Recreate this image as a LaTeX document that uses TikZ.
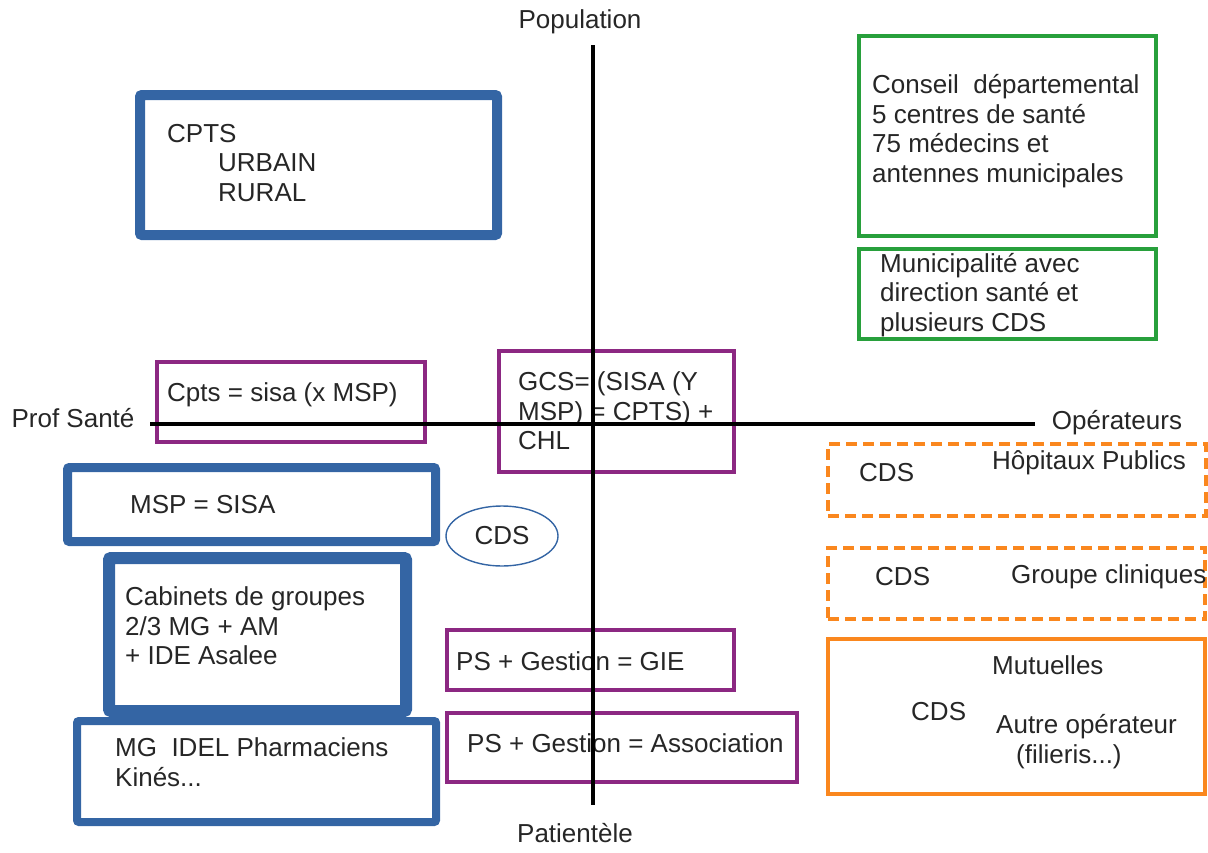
\documentclass[tikz,border=0pt]{standalone}
\usepackage{fontspec}
\setmainfont{Liberation Sans}
\usetikzlibrary{shapes.geometric,positioning}
\definecolor{bleu}{RGB}{52,101,164}
\definecolor{violet}{RGB}{140,40,130}
\definecolor{vert}{RGB}{40,160,60}
\definecolor{orange}{RGB}{250,135,30}

\begin{document}
\begin{tikzpicture}[x=1pt,y=-1pt]
    \tikzset{Box/.style = {draw, rectangle, inner sep=0pt},
      BlueBox/.style = {Box, bleu, rounded corners=2pt},
      PurpleBox/.style = {Box, violet, line width=3.2pt},
      GreenBox/.style = {Box, vert, line width=3.2pt},
      OrangeBox/.style = {Box, orange, line width=3.4pt},
      Txt/.style = {inner sep=0pt, anchor=west, align=left, text=black!85,
        font=\fontsize{26}{29.5}\selectfont}}
    \useasboundingbox (0,0) rectangle (1208,852);
    % boxes
    \node[BlueBox, line width=10pt, minimum width=357, minimum height=140] (CPTS) at (318.5,165) {};
    \node[GreenBox, minimum width=297, minimum height=200] (CD) at (1007.5,136) {};
    \node[GreenBox, minimum width=297, minimum height=90] (MUNI) at (1007.5,294) {};
    \node[PurpleBox, minimum width=268, minimum height=80] (SISA) at (291,402) {};
    \node[PurpleBox, minimum width=235, minimum height=121] (GCS) at (616.5,411.5) {};
    \node[BlueBox, line width=9pt, minimum width=368, minimum height=74] (MSP) at (251.5,504.5) {};
    \node[BlueBox, line width=12pt, minimum width=297, minimum height=153] (CAB) at (257.5,634.5) {};
    \node[BlueBox, line width=8pt, minimum width=359, minimum height=101] (MG) at (256.5,771.5) {};
    \node[PurpleBox, minimum width=287, minimum height=60] (GIE) at (590.5,660) {};
    \node[PurpleBox, minimum width=350, minimum height=69] (ASSO) at (622,747.5) {};
    \node[OrangeBox, dash pattern=on 11pt off 6pt, minimum width=378, minimum height=72] (HOP) at (1017,480) {};
    \node[OrangeBox, dash pattern=on 11pt off 6pt, minimum width=377, minimum height=71] (CLI) at (1016.5,583.5) {};
    \node[OrangeBox, minimum width=377, minimum height=155] (MUT) at (1016.5,716.5) {};
    \node[draw=bleu, ellipse, line width=1.4pt, minimum width=112, minimum height=60,
      inner sep=0pt, font=\fontsize{26}{29.5}\selectfont, text=black!85] (CDS) at (502,536) {CDS};
    % texts
    \node[Txt] at (167,163) {CPTS\\\hspace*{51pt}URBAIN\\\hspace*{51pt}RURAL};
    \node[Txt] at (872,131) {Conseil\ \ départemental\\5 centres de santé\\75 médecins et\\antennes municipales};
    \node[Txt] at (880,295) {Municipalité avec\\direction santé et\\plusieurs CDS};
    \node[Txt] at (167,395) {Cpts = sisa (x MSP)};
    \node[Txt] at (518,411) {GCS= (SISA (Y\\MSP) = CPTS) +\\CHL};
    \node[Txt] at (130,505) {MSP = SISA};
    \node[Txt] at (125,626) {Cabinets de groupes\\2/3 MG + AM\\+ IDE Asalee};
    \node[Txt] at (115,762) {MG\ \ IDEL Pharmaciens\\Kinés...};
    \node[Txt] at (456,661) {PS + Gestion = GIE};
    \node[Txt] at (467,743) {PS + Gestion = Association};
    \node[Txt] at (859,473) {CDS};
    \node[Txt] at (992,463) {Hôpitaux Publics};
    \node[Txt] at (875,577) {CDS};
    \node[Txt] at (1011,577) {Groupe cliniques};
    \node[Txt] at (992,665) {Mutuelles};
    \node[Txt] at (911,712) {CDS};
    \node[Txt] at (996,727) {Autre opérateur};
    \node[Txt] at (1016,757) {(filieris...)};
    % axes
    \coordinate (N) at (593,45);
    \coordinate (S) at (593,805);
    \coordinate (W) at (150,424);
    \coordinate (E) at (1035,424);
    \draw[line width=3.5pt] (N) -- (S);
    \draw[line width=3.5pt] (W) -- (E);
    \node[Txt, anchor=center] (pop) at (580,22) {Population};
    \node[Txt, anchor=center] (pat) at (575,833) {Patientèle};
    \node[Txt, anchor=center] (prof) at (73,418) {Prof Santé};
    \node[Txt, anchor=center] (ope) at (1117,423) {Opérateurs};
  \end{tikzpicture}
\end{document}
